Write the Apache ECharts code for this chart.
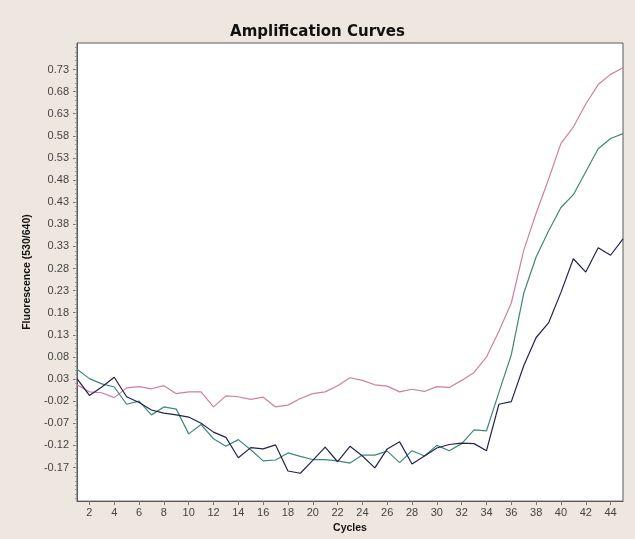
<!DOCTYPE html>
<html>
<head>
<meta charset="utf-8">
<script src="https://cdn.jsdelivr.net/npm/echarts@6/dist/echarts.min.js"></script>
<style>
html,body{margin:0;padding:0;background:#EDE7DF;}
#chart{width:635px;height:539px;}
</style>
</head>
<body>
<div id="chart"></div>
<script>
const cycles = [1,2,3,4,5,6,7,8,9,10,11,12,13,14,15,16,17,18,19,20,21,22,23,24,25,26,27,28,29,30,31,32,33,34,35,36,37,38,39,40,41,42,43,44,45];
const pinkCurve = [0.017,0.001,-0.001,-0.012,0.010,0.013,0.008,0.015,-0.003,0.001,0.001,-0.033,-0.008,-0.010,-0.016,-0.011,-0.033,-0.029,-0.014,-0.003,0.001,0.015,0.033,0.027,0.017,0.014,0.001,0.007,0.002,0.013,0.011,0.027,0.045,0.080,0.138,0.202,0.321,0.405,0.482,0.563,0.600,0.652,0.696,0.719,0.734];
const tealCurve = [0.052,0.031,0.019,0.012,-0.027,-0.020,-0.051,-0.033,-0.038,-0.094,-0.073,-0.105,-0.122,-0.107,-0.130,-0.155,-0.153,-0.137,-0.145,-0.152,-0.152,-0.155,-0.160,-0.142,-0.142,-0.133,-0.159,-0.132,-0.144,-0.120,-0.132,-0.116,-0.085,-0.087,0.000,0.085,0.224,0.306,0.365,0.418,0.447,0.499,0.551,0.574,0.585];
const navyCurve = [0.031,-0.007,0.012,0.034,-0.010,-0.023,-0.040,-0.047,-0.051,-0.056,-0.070,-0.090,-0.102,-0.148,-0.125,-0.128,-0.119,-0.178,-0.183,-0.154,-0.124,-0.157,-0.122,-0.144,-0.171,-0.128,-0.112,-0.162,-0.144,-0.126,-0.118,-0.115,-0.116,-0.132,-0.027,-0.021,0.060,0.124,0.157,0.226,0.302,0.272,0.327,0.310,0.347];
const xTickLabels = [2,4,6,8,10,12,14,16,18,20,22,24,26,28,30,32,34,36,38,40,42,44];
const yTickLabels = [-0.17,-0.12,-0.07,-0.02,0.03,0.08,0.13,0.18,0.23,0.28,0.33,0.38,0.43,0.48,0.53,0.58,0.63,0.68,0.73];
const yMinorTicks = [];
for (let i = -24; i <= 78; i++) yMinorTicks.push(+(i / 100).toFixed(2));

const Y_MIN = -0.246, Y_MAX = 0.790;
const labelFont = {fontFamily: 'Liberation Sans, Arial, sans-serif', fontSize: 11, color: '#444'};

const chart = echarts.init(document.getElementById('chart'), null, {renderer: 'canvas'});
const mk = (arr) => cycles.map((c, i) => [c, arr[i]]);
const lineSeries = (name, arr, color) => ({
  name, type: 'line', data: mk(arr), symbol: 'none', smooth: false,
  lineStyle: {color, width: 1.2}, animation: false
});
chart.setOption({
  backgroundColor: '#EDE7DF',
  animation: false,
  title: {
    text: 'Amplification Curves', left: 'center', top: 20,
    textStyle: {fontFamily: 'DejaVu Sans, sans-serif', fontWeight: 'bold', fontSize: 15, color: '#111'}
  },
  grid: {left: 77, right: 12, top: 43, bottom: 33, show: true, backgroundColor: '#FFFFFF', borderColor: '#5a5a5a', borderWidth: 1},
  xAxis: {
    type: 'value', min: 1, max: 45,
    name: 'Cycles', nameLocation: 'middle', nameGap: 20,
    nameTextStyle: {fontFamily: 'Liberation Sans, Arial, sans-serif', fontWeight: 'bold', fontSize: 10.5, color: '#111'},
    axisLine: {show: true, onZero: false, lineStyle: {color: '#5a5a5a'}},
    axisTick: {show: true, length: 4, inside: false, lineStyle: {color: '#777'}, customValues: xTickLabels},
    axisLabel: Object.assign({margin: 6, customValues: xTickLabels}, labelFont),
    splitLine: {show: false}
  },
  yAxis: [{
    type: 'value', min: Y_MIN, max: Y_MAX,
    name: 'Fluorescence (530/640)', nameLocation: 'middle', nameGap: 42, nameRotate: 90,
    nameTextStyle: {fontFamily: 'Liberation Sans, Arial, sans-serif', fontWeight: 'bold', fontSize: 10.5, color: '#111'},
    axisLine: {show: true, onZero: false, lineStyle: {color: '#5a5a5a'}},
    axisTick: {show: true, length: 4, lineStyle: {color: '#777'}, customValues: yTickLabels},
    axisLabel: Object.assign({margin: 8, customValues: yTickLabels, formatter: v => v.toFixed(2)}, labelFont),
    splitLine: {show: false}
  }, {
    type: 'value', min: Y_MIN, max: Y_MAX, position: 'left', offset: 0,
    axisLine: {show: false},
    axisTick: {show: true, length: 2, lineStyle: {color: '#999'}, customValues: yMinorTicks},
    axisLabel: {show: false},
    splitLine: {show: false}
  }],
  series: [
    lineSeries('A', pinkCurve, '#cf7fa3'),
    lineSeries('B', tealCurve, '#3f8878'),
    lineSeries('C', navyCurve, '#23234f')
  ]
});
</script>
</body>
</html>
